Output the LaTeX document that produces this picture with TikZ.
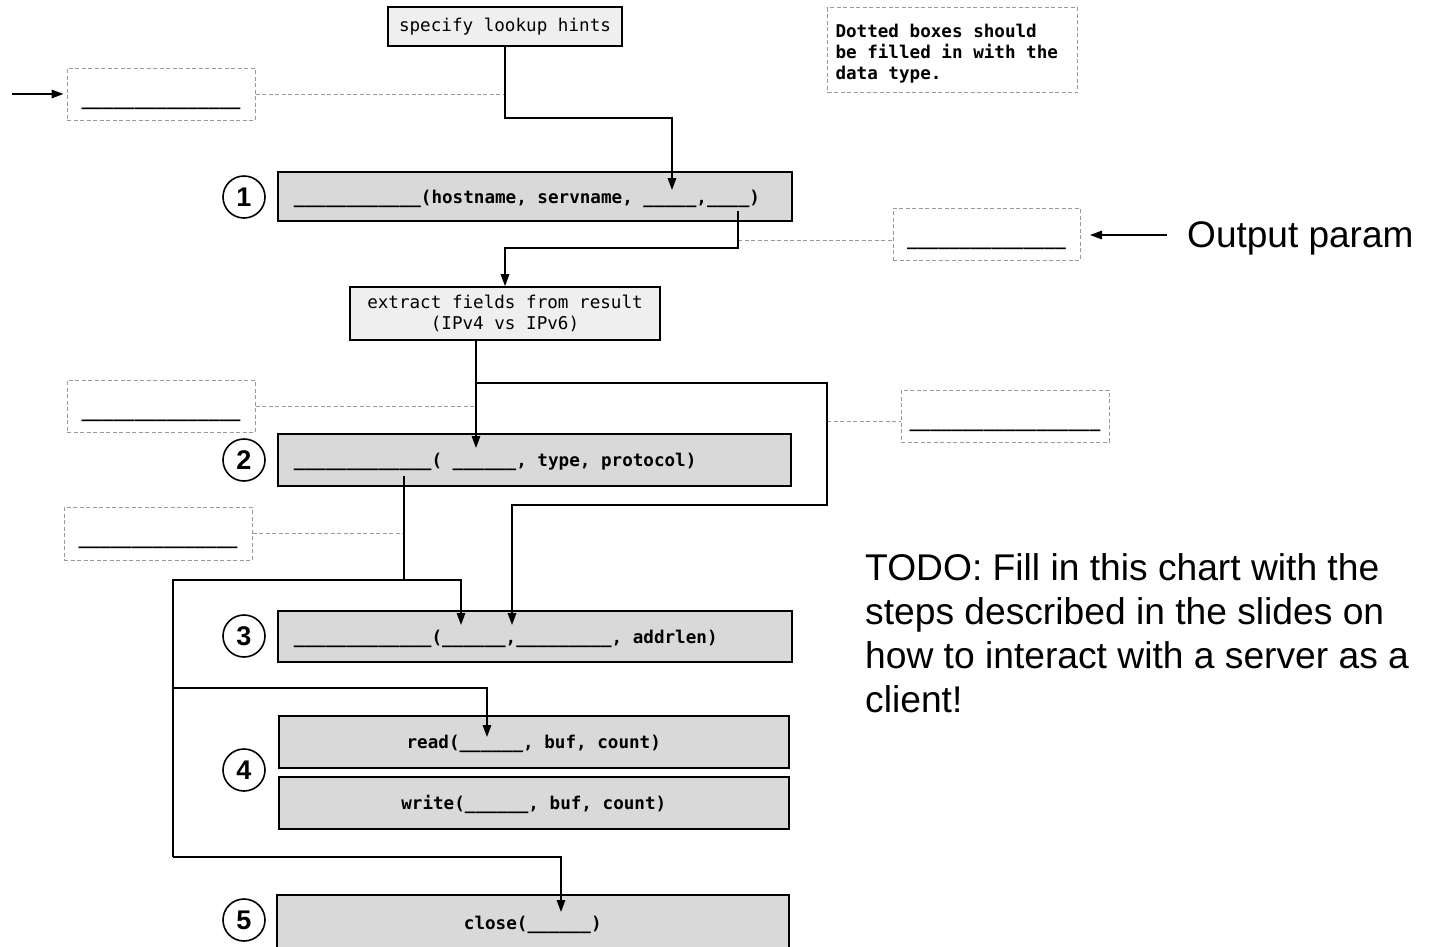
\documentclass[tikz,border=0pt]{standalone}
\usepackage{fontspec}
\setmainfont{Liberation Sans}
\newfontfamily\monofam{DejaVu Sans Mono}
\usetikzlibrary{arrows.meta,calc}
\definecolor{stepfill}{HTML}{D9D9D9}
\definecolor{hintfill}{HTML}{EFEFEF}
\definecolor{dashgray}{HTML}{9A9A9A}
\newcommand{\monospaces}{\spaceskip=10.6pt\relax\xspaceskip=10.6pt\relax}
\begin{document}
\begin{tikzpicture}[x=1pt,y=-1pt,
  monor/.style={font=\monofam\fontsize{17.6}{21}\selectfont, execute at begin node=\monospaces},
  monob/.style={font=\monofam\bfseries\fontsize{17.6}{21}\selectfont, execute at begin node=\monospaces},
  hintbox/.style={monor, draw=black, line width=1.6pt, fill=hintfill, align=center, inner sep=0pt},
  stepbox/.style={monob, draw=black, line width=1.6pt, fill=stepfill, anchor=north west,
                  inner xsep=16pt, inner ysep=0pt, text height=18pt, text depth=4pt},
  notebox/.style={monob, draw=dashgray, line width=1pt, dash pattern=on 4pt off 2.5pt,
                  align=left, inner xsep=8pt, inner ysep=0pt, anchor=north west},
  blankbox/.style={monob, draw=dashgray, line width=1pt, dash pattern=on 4pt off 2.5pt,
                  inner sep=0pt, text height=22pt, text depth=0pt},
  numcirc/.style={circle, draw=black, line width=1.6pt, fill=white, minimum size=42pt,
                  inner sep=0pt, font=\bfseries\fontsize{27}{28}\selectfont},
  conn/.style={draw=black, line width=1.6pt},
  arr/.style={conn, -{Triangle[length=12pt,width=8.5pt]}},
  dashline/.style={draw=dashgray, line width=1pt, dash pattern=on 4pt off 2.5pt}
]
\fill[white] (0,0) rectangle (1431,946);
\useasboundingbox (0,0) rectangle (1431,946);

% ---- boxes ----
\node[hintbox, minimum width=234pt, minimum height=39pt] (hints) at (505,26.5) {specify lookup hints};
\node[notebox, text width=234pt, minimum height=85pt] (note) at (827,7)
  {\rule{0pt}{21pt}Dotted boxes should\\be filled in with the\\data type.};

\node[blankbox, minimum width=188pt, minimum height=52pt] (d1) at (161,94) {\_\_\_\_\_\_\_\_\_\_\_\_\_\_\_};
\node[blankbox, minimum width=187pt, minimum height=52pt] (dout) at (986.5,234) {\_\_\_\_\_\_\_\_\_\_\_\_\_\_\_};
\node[blankbox, minimum width=188pt, minimum height=52pt] (d2) at (161,406) {\_\_\_\_\_\_\_\_\_\_\_\_\_\_\_};
\node[blankbox, minimum width=208pt, minimum height=52pt] (dright) at (1005,416) {\_\_\_\_\_\_\_\_\_\_\_\_\_\_\_\_\_\_};
\node[blankbox, minimum width=188pt, minimum height=53pt] (d3) at (158,533.5) {\_\_\_\_\_\_\_\_\_\_\_\_\_\_\_};

\node[stepbox, text width=482pt, align=left, minimum height=49pt] (s1) at (277,171)
  {\_\_\_\_\_\_\_\_\_\_\_\_(hostname, servname, \_\_\_\_\_,\_\_\_\_)};
\node[hintbox, minimum width=310pt, minimum height=53pt] (extract) at (505,313.5)
  {extract fields from result\\(IPv4 vs IPv6)};
\node[stepbox, text width=481pt, align=left, minimum height=52pt] (s2) at (277,433)
  {\_\_\_\_\_\_\_\_\_\_\_\_\_( \_\_\_\_\_\_, type, protocol)};
\node[stepbox, text width=482pt, align=left, minimum height=51pt] (s3) at (277,610)
  {\_\_\_\_\_\_\_\_\_\_\_\_\_(\_\_\_\_\_\_,\_\_\_\_\_\_\_\_\_, addrlen)};
\node[stepbox, text width=478pt, align=center, minimum height=52pt] (rd) at (278,715)
  {read(\_\_\_\_\_\_, buf, count)};
\node[stepbox, text width=478pt, align=center, minimum height=52pt] (wr) at (278,776)
  {write(\_\_\_\_\_\_, buf, count)};
\node[stepbox, text width=480pt, align=center, minimum height=56pt] (cl) at (276,894)
  {close(\_\_\_\_\_\_)};

\node[numcirc] (c1) at (244,197) {1};
\node[numcirc] (c2) at (244,460) {2};
\node[numcirc] (c3) at (244,636) {3};
\node[numcirc] (c4) at (244,770) {4};
\node[numcirc] (c5) at (244,920) {5};

\node[anchor=base west, inner sep=0pt, font=\fontsize{37}{40}\selectfont] (outlbl) at (1187,247) {Output param};
\node[anchor=north west, inner sep=0pt, align=left, font=\fontsize{37.2}{44}\selectfont] (todo) at (865,553)
  {TODO: Fill in this chart with the\\steps described in the slides on\\how to interact with a server as a\\client!};

% ---- coordinates ----
\coordinate (la) at (12,94);
\coordinate (t1) at (672,190);
\coordinate (o1) at (738,211);
\coordinate (oat) at (1090,235);
\coordinate (t2) at (476,448);
\coordinate (t3b) at (512,625);
\coordinate (o2) at (404,476);
\coordinate (t3a) at (461,625);
\coordinate (tr) at (487,737);
\coordinate (tc) at (561,912);

% ---- dashed leader lines ----
\draw[dashline] (d1.east) -- (hints.south |- d1.east);
\draw[dashline] (o1 |- 0,240) -- (dout.west |- 0,240);
\draw[dashline] (d2.east) -- (t2 |- d2.east);
\draw[dashline] (827,421) -- (dright.west |- 0,421);
\draw[dashline] (d3.east) -- (o2 |- d3.east);

% ---- connectors ----
\draw[arr] (la) -- ([xshift=-3pt]d1.west);
\draw[arr] (hints.south) -- (hints.south |- 0,118) -- (t1 |- 0,118) -- (t1);
\draw[arr] (o1) -- (o1 |- 0,248) -- (extract.north |- 0,248) -- (extract.north);
\draw[arr] ([xshift=-20pt]outlbl.west |- oat) -- (oat);
\draw[arr] (extract.south -| t2) -- (t2);
\draw[arr] (t2 |- 0,383) -- (827,383) -- (827,505) -- (t3b |- 0,505) -- (t3b);
\draw[arr] (o2) -- (o2 |- 0,580) -- (t3a |- 0,580) -- (t3a);
\draw[conn] (o2 |- 0,580) -- (173,580) -- (173,857);
\draw[arr] (173,688) -- (tr |- 0,688) -- (tr);
\draw[arr] (173,857) -- (tc |- 0,857) -- (tc);
\end{tikzpicture}
\end{document}
